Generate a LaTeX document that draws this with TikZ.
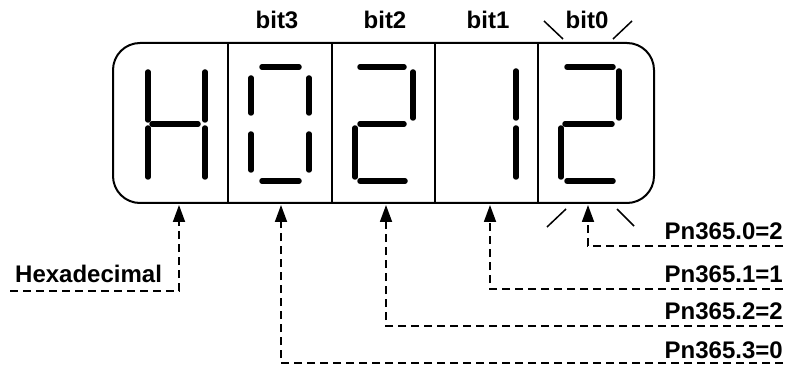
\documentclass[tikz,border=0pt]{standalone}
\usepackage{fontspec}
\setmainfont{Liberation Sans}
\usetikzlibrary{arrows.meta}
\begin{document}
\begin{tikzpicture}[x=1pt,y=-1pt,
  seg/.style={line width=5.5pt,line cap=round},
  frame/.style={line width=2pt},
  conn/.style={line width=1.8pt,dash pattern=on 8pt off 5pt,-{Triangle[length=17pt,width=12pt]}},
  lbl/.style={inner sep=0pt,font=\fontsize{24}{28}\selectfont\bfseries},
  tick/.style={line width=1.5pt}]
\useasboundingbox (0,0) rectangle (787,366);
% frame
\draw[frame,rounded corners=27pt] (113,43) rectangle (654,203);
\foreach \x in {228,332,435,538} \draw[frame] (\x,43) -- (\x,203);
% H
\draw[seg] (148,72) -- (148,120); \draw[seg] (148,128) -- (148,177);
\draw[seg] (205,72) -- (205,120); \draw[seg] (205,128) -- (205,177);
\draw[seg] (152,124) -- (198,124);
% 0
\draw[seg] (262,67) -- (299,67);
\draw[seg] (251,78) -- (251,113); \draw[seg] (309,78) -- (309,113);
\draw[seg] (251,134) -- (251,170); \draw[seg] (309,134) -- (309,170);
\draw[seg] (262,181) -- (299,181);
% 2
\draw[seg] (360,67) -- (404,67);
\draw[seg] (413,72) -- (413,118);
\draw[seg] (360,124) -- (404,124);
\draw[seg] (355,128) -- (355,177);
\draw[seg] (360,181) -- (405,181);
% 1
\draw[seg] (516,71) -- (516,118); \draw[seg] (516,128) -- (516,177);
% 2
\draw[seg] (567,67) -- (613,67);
\draw[seg] (619,71) -- (619,118);
\draw[seg] (565,124) -- (612,124);
\draw[seg] (561,128) -- (561,177);
\draw[seg] (567,181) -- (613,181);
% blink ticks
\draw[tick] (544,21) -- (563,39);
\draw[tick] (632,21) -- (613,39);
\draw[tick] (547,227) -- (566,209);
\draw[tick] (617,209) -- (634,226);
% bit labels
\node[lbl,anchor=base] (b3) at (277,29) {bit3};
\node[lbl,anchor=base] (b2) at (385,29) {bit2};
\node[lbl,anchor=base] (b1) at (488,29) {bit1};
\node[lbl,anchor=base] (b0) at (587,29) {bit0};
% bottom labels
\node[lbl,anchor=base east] (p0) at (783,240) {Pn365.0=2};
\node[lbl,anchor=base east] (p1) at (783,282) {Pn365.1=1};
\node[lbl,anchor=base east] (p2) at (783,319) {Pn365.2=2};
\node[lbl,anchor=base east] (p3) at (783,358) {Pn365.3=0};
\node[lbl,anchor=base west] (hx) at (15,282) {Hexadecimal};
% connector endpoints
\coordinate (t0) at (588,205); \coordinate (e0) at (783,246);
\coordinate (t1) at (490,205); \coordinate (e1) at (783,289);
\coordinate (t2) at (386,205); \coordinate (e2) at (783,326);
\coordinate (t3) at (281,205); \coordinate (e3) at (783,363);
\coordinate (th) at (179,205); \coordinate (eh) at (10,291);
\draw[conn] (e0) -| (t0);
\draw[conn] (e1) -| (t1);
\draw[conn] (e2) -| (t2);
\draw[conn] (e3) -| (t3);
\draw[conn] (eh) -| (th);
\end{tikzpicture}
\end{document}
